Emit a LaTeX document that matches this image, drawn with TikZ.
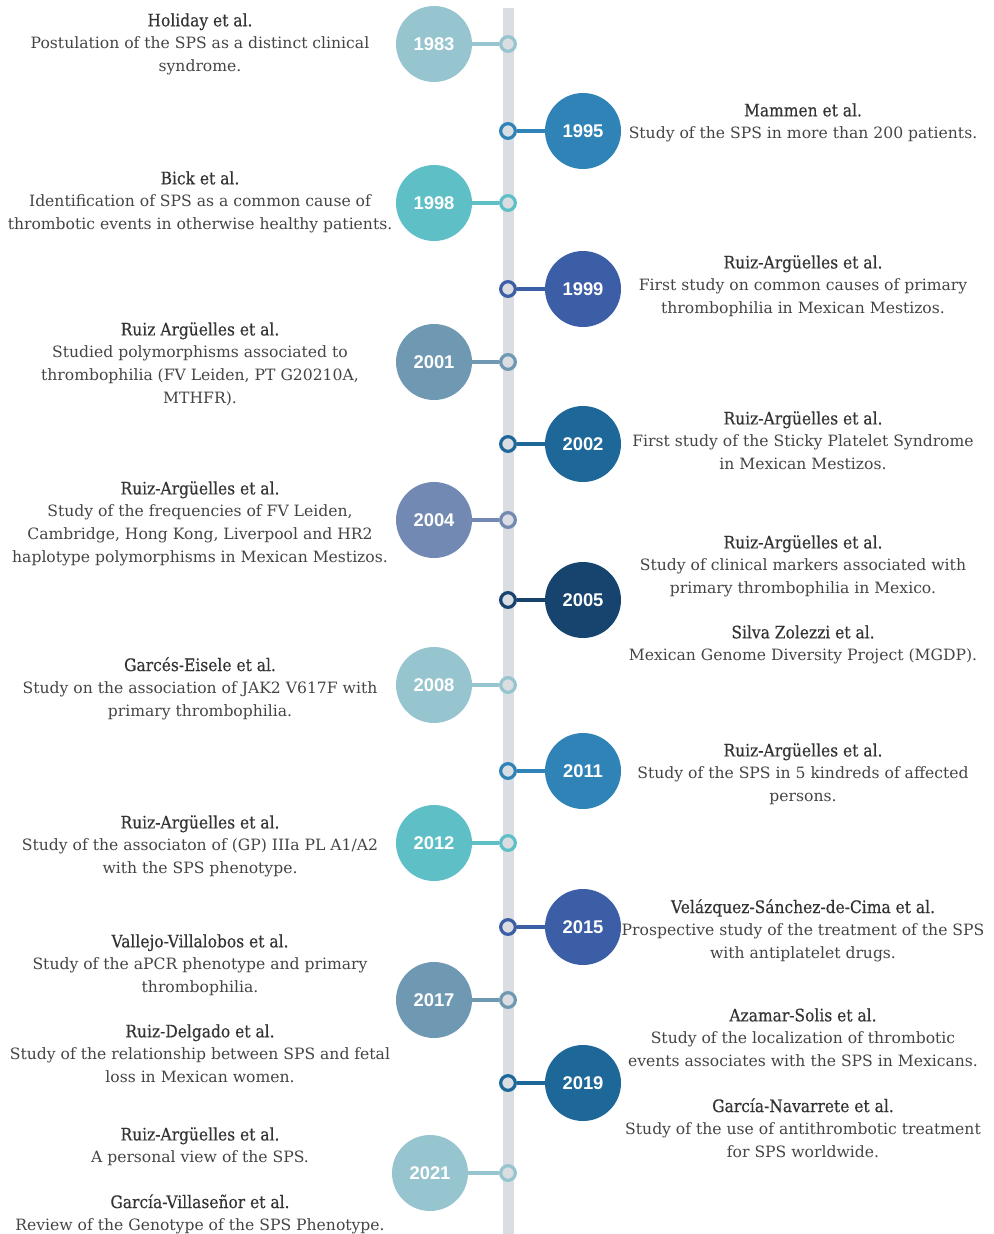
\documentclass[tikz,border=0pt]{standalone}
\usepackage{fontspec}
\setmainfont{DejaVu Serif}
\newfontfamily\namefont{DejaVu Serif}[FakeStretch=0.9, FakeBold=0.4]
\newfontfamily\yearfont{Liberation Sans}
\newcommand\authors[1]{{\namefont\fontsize{12.9}{16.9}\selectfont\color{nameclr}#1}}

\definecolor{barclr}{HTML}{DADDE1}
\definecolor{txtclr}{HTML}{444444}
\definecolor{nameclr}{HTML}{333333}
\definecolor{tealpale}{HTML}{97C5CF}
\definecolor{bluemid}{HTML}{2F83B6}
\definecolor{tealmid}{HTML}{5FBFC7}
\definecolor{blueroyal}{HTML}{3B5EA6}
\definecolor{slatepale}{HTML}{6F98B2}
\definecolor{bluedeep}{HTML}{1D6799}
\definecolor{slateblue}{HTML}{7289B3}
\definecolor{navy}{HTML}{17446E}

\begin{document}
\begin{tikzpicture}[x=0.75pt, y=-0.75pt,
  year/.style={circle, minimum size=57pt, inner sep=0, text=white, font=\yearfont\bfseries\fontsize{13.8}{13.8}\selectfont},
  ring/.style={circle, draw=#1, line width=2.4pt, fill=barclr, minimum size=11pt, inner sep=0},
  link/.style={draw=#1, line width=2.4pt},
  entry/.style={align=center, anchor=north, inner sep=0, text=txtclr, font=\fontsize{11.7}{16.9}\selectfont}]
\useasboundingbox (0,0) rectangle (994,1234);

% timeline bar
\fill [barclr] (503,8) rectangle (514,1234);

% year circles and rings
\node [year, fill=tealpale] (c1983) at (434,44) {1983};
\node [ring=tealpale] (r1983) at (508,44) {};
\node [year, fill=bluemid] (c1995) at (583,131) {1995};
\node [ring=bluemid] (r1995) at (508,131) {};
\node [year, fill=tealmid] (c1998) at (434,203) {1998};
\node [ring=tealmid] (r1998) at (508,203) {};
\node [year, fill=blueroyal] (c1999) at (583,289) {1999};
\node [ring=blueroyal] (r1999) at (508,289) {};
\node [year, fill=slatepale] (c2001) at (434,362) {2001};
\node [ring=slatepale] (r2001) at (508,362) {};
\node [year, fill=bluedeep] (c2002) at (583,444) {2002};
\node [ring=bluedeep] (r2002) at (508,444) {};
\node [year, fill=slateblue] (c2004) at (434,520) {2004};
\node [ring=slateblue] (r2004) at (508,520) {};
\node [year, fill=navy] (c2005) at (583,600) {2005};
\node [ring=navy] (r2005) at (508,600) {};
\node [year, fill=tealpale] (c2008) at (434,685) {2008};
\node [ring=tealpale] (r2008) at (508,685) {};
\node [year, fill=bluemid] (c2011) at (583,771) {2011};
\node [ring=bluemid] (r2011) at (508,771) {};
\node [year, fill=tealmid] (c2012) at (434,843) {2012};
\node [ring=tealmid] (r2012) at (508,843) {};
\node [year, fill=blueroyal] (c2015) at (583,927) {2015};
\node [ring=blueroyal] (r2015) at (508,927) {};
\node [year, fill=slatepale] (c2017) at (434,1000) {2017};
\node [ring=slatepale] (r2017) at (508,1000) {};
\node [year, fill=bluedeep] (c2019) at (583,1083) {2019};
\node [ring=bluedeep] (r2019) at (508,1083) {};
\node [year, fill=tealpale] (c2021) at (430,1173) {2021};
\node [ring=tealpale] (r2021) at (508,1173) {};

\draw [link=tealpale] (c1983) -- (r1983);
\draw [link=bluemid] (c1995) -- (r1995);
\draw [link=tealmid] (c1998) -- (r1998);
\draw [link=blueroyal] (c1999) -- (r1999);
\draw [link=slatepale] (c2001) -- (r2001);
\draw [link=bluedeep] (c2002) -- (r2002);
\draw [link=slateblue] (c2004) -- (r2004);
\draw [link=navy] (c2005) -- (r2005);
\draw [link=tealpale] (c2008) -- (r2008);
\draw [link=bluemid] (c2011) -- (r2011);
\draw [link=tealmid] (c2012) -- (r2012);
\draw [link=blueroyal] (c2015) -- (r2015);
\draw [link=slatepale] (c2017) -- (r2017);
\draw [link=bluedeep] (c2019) -- (r2019);
\draw [link=tealpale] (c2021) -- (r2021);

% left entries
\node [entry] (holiday) at (200,13) {\authors{Holiday et al.}\\Postulation of the SPS as a distinct clinical\\syndrome.};
\node [entry] (bick) at (200,171) {\authors{Bick et al.}\\Identification of SPS as a common cause of\\thrombotic events in otherwise healthy patients.};
\node [entry] (ruiz01) at (200,322) {\authors{Ruiz Argüelles et al.}\\Studied polymorphisms associated to\\thrombophilia (FV Leiden, PT G20210A,\\MTHFR).};
\node [entry] (ruiz04) at (200,481) {\authors{Ruiz-Argüelles et al.}\\Study of the frequencies of FV Leiden,\\Cambridge, Hong Kong, Liverpool and HR2\\haplotype polymorphisms in Mexican Mestizos.};
\node [entry] (garces) at (200,657) {\authors{Garcés-Eisele et al.}\\Study on the association of JAK2 V617F with\\primary thrombophilia.};
\node [entry] (ruiz12) at (200,815) {\authors{Ruiz-Argüelles et al.}\\Study of the associaton of (GP) IIIa PL A1/A2\\with the SPS phenotype.};
\node [entry] (vallejo) at (200,934) {\authors{Vallejo-Villalobos et al.}\\Study of the aPCR phenotype and primary\\thrombophilia.};
\node [entry] (delgado) at (200,1024) {\authors{Ruiz-Delgado et al.}\\Study of the relationship between SPS and fetal\\loss in Mexican women.};
\node [entry] (ruiz21) at (200,1127) {\authors{Ruiz-Argüelles et al.}\\A personal view of the SPS.};
\node [entry] (villasenor) at (200,1194) {\authors{García-Villaseñor et al.}\\Review of the Genotype of the SPS Phenotype.};

% right entries
\node [entry] (mammen) at (803,103) {\authors{Mammen et al.}\\Study of the SPS in more than 200 patients.};
\node [entry] (ruiz99) at (803,255) {\authors{Ruiz-Argüelles et al.}\\First study on common causes of primary\\thrombophilia in Mexican Mestizos.};
\node [entry] (ruiz02) at (803,411) {\authors{Ruiz-Argüelles et al.}\\First study of the Sticky Platelet Syndrome\\in Mexican Mestizos.};
\node [entry] (ruiz05) at (803,535) {\authors{Ruiz-Argüelles et al.}\\Study of clinical markers associated with\\primary thrombophilia in Mexico.};
\node [entry] (silva) at (803,625) {\authors{Silva Zolezzi et al.}\\Mexican Genome Diversity Project (MGDP).};
\node [entry] (ruiz11) at (803,743) {\authors{Ruiz-Argüelles et al.}\\Study of the SPS in 5 kindreds of affected\\persons.};
\node [entry] (velazquez) at (803,899) {\authors{Velázquez-Sánchez-de-Cima et al.}\\Prospective study of the treatment of the SPS\\with antiplatelet drugs.};
\node [entry] (azamar) at (803,1008) {\authors{Azamar-Solis et al.}\\Study of the localization of thrombotic\\events associates with the SPS in Mexicans.};
\node [entry] (navarrete) at (803,1098) {\authors{García-Navarrete et al.}\\Study of the use of antithrombotic treatment\\for SPS worldwide.};
\end{tikzpicture}
\end{document}
